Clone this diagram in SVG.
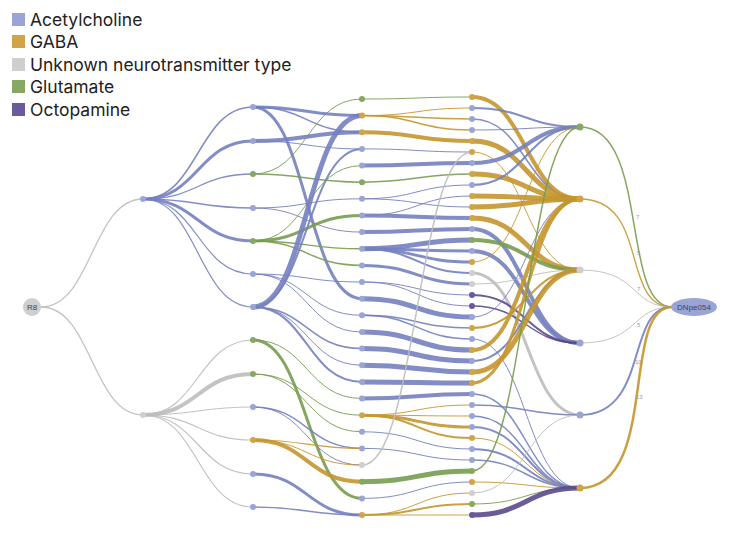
<svg xmlns="http://www.w3.org/2000/svg" width="750" height="540" viewBox="0 0 750 540">
<style>
path{fill:none;stroke-opacity:0.9}
.a{stroke:#7480bf}.g{stroke:#c4962e}.u{stroke:#bdbdbd}.l{stroke:#779c4f}.o{stroke:#594a8c}
circle.a{fill:#9aa5d6;stroke:none}circle.g{fill:#d0a447;stroke:none}circle.u{fill:#cfcfcf;stroke:none}circle.l{fill:#86a862;stroke:none}circle.o{fill:#6a5a9c;stroke:none}
.lg{font-family:Inter,"Liberation Sans",sans-serif;font-size:17.5px;fill:#222}
.nl{font-family:"Liberation Sans",Arial,sans-serif;font-size:8px;fill:#444}
.el{font-family:"Liberation Sans",Arial,sans-serif;font-size:6px;fill:#999}
</style>
<rect width="750" height="540" fill="#fff"/>
<g id="legend">
<rect x="12" y="13" width="13" height="13" fill="#9aa5d6"/><text class="lg" x="30" y="26">Acetylcholine</text>
<rect x="12" y="35" width="13" height="13" fill="#d0a447"/><text class="lg" x="30" y="48">GABA</text>
<rect x="12" y="58" width="13" height="13" fill="#cfcfcf"/><text class="lg" x="30" y="71">Unknown neurotransmitter type</text>
<rect x="12" y="80" width="13" height="13" fill="#86a862"/><text class="lg" x="30" y="93">Glutamate</text>
<rect x="12" y="103" width="13" height="13" fill="#6a5a9c"/><text class="lg" x="30" y="116">Octopamine</text>
</g>
<g id="connectors">
<path class="u" stroke-width="1.3" d="M41 307C92 307 92 199 143 199"/>
<path class="u" stroke-width="1.3" d="M41 307C92 307 92 415 143 415"/>
<path class="a" stroke-width="1.5" d="M143 199C198 199 198 107 253 107"/>
<path class="a" stroke-width="3" d="M143 199C198 199 198 141 253 141"/>
<path class="a" stroke-width="1.3" d="M143 199C198 199 198 174 253 174"/>
<path class="a" stroke-width="1.3" d="M143 199C198 199 198 208 253 208"/>
<path class="a" stroke-width="3" d="M143 199C198 199 198 241 253 241"/>
<path class="a" stroke-width="1.2" d="M143 199C198 199 198 274 253 274"/>
<path class="a" stroke-width="1.2" d="M143 199C198 199 198 307 253 307"/>
<path class="u" stroke-width="1.2" d="M143 415C198 415 198 340 253 340"/>
<path class="u" stroke-width="4" d="M143 415C198 415 198 374 253 374"/>
<path class="u" stroke-width="1.2" d="M143 415C198 415 198 407 253 407"/>
<path class="u" stroke-width="1.2" d="M143 415C198 415 198 440 253 440"/>
<path class="u" stroke-width="1.2" d="M143 415C198 415 198 474 253 474"/>
<path class="u" stroke-width="1.2" d="M143 415C198 415 198 507 253 507"/>
<path class="a" stroke-width="3" d="M253 107C307 107 307 115.6 362 115.6"/>
<path class="a" stroke-width="1.5" d="M253 107C307 107 307 132.3 362 132.3"/>
<path class="a" stroke-width="3" d="M253 107C307 107 307 298.7 362 298.7"/>
<path class="a" stroke-width="4" d="M253 141C307 141 307 132.3 362 132.3"/>
<path class="a" stroke-width="1" d="M253 141C307 141 307 148.9 362 148.9"/>
<path class="l" stroke-width="1" d="M253 174C307 174 307 99 362 99"/>
<path class="l" stroke-width="1.5" d="M253 174C307 174 307 182.2 362 182.2"/>
<path class="a" stroke-width="1" d="M253 208C307 208 307 198.8 362 198.8"/>
<path class="a" stroke-width="1" d="M253 208C307 208 307 232.1 362 232.1"/>
<path class="l" stroke-width="3" d="M253 241C307 241 307 215.5 362 215.5"/>
<path class="l" stroke-width="1.5" d="M253 241C307 241 307 248.8 362 248.8"/>
<path class="l" stroke-width="1.5" d="M253 241C307 241 307 265.4 362 265.4"/>
<path class="l" stroke-width="1" d="M253 241C307 241 307 165.6 362 165.6"/>
<path class="a" stroke-width="1" d="M253 274C307 274 307 282 362 282"/>
<path class="a" stroke-width="1" d="M253 274C307 274 307 315.3 362 315.3"/>
<path class="a" stroke-width="1" d="M253 274C307 274 307 332 362 332"/>
<path class="a" stroke-width="5" d="M253 307C307 307 307 115.6 362 115.6"/>
<path class="a" stroke-width="2" d="M253 307C307 307 307 148.9 362 148.9"/>
<path class="a" stroke-width="1.5" d="M253 307C307 307 307 348.6 362 348.6"/>
<path class="a" stroke-width="1" d="M253 307C307 307 307 365.2 362 365.2"/>
<path class="a" stroke-width="2" d="M253 307C307 307 307 381.9 362 381.9"/>
<path class="l" stroke-width="3" d="M253 340C307 340 307 498.4 362 498.4"/>
<path class="l" stroke-width="1" d="M253 340C307 340 307 398.5 362 398.5"/>
<path class="l" stroke-width="1" d="M253 374C307 374 307 431.8 362 431.8"/>
<path class="l" stroke-width="1" d="M253 374C307 374 307 415.2 362 415.2"/>
<path class="a" stroke-width="1.5" d="M253 407C307 407 307 448.4 362 448.4"/>
<path class="a" stroke-width="1" d="M253 407C307 407 307 465.1 362 465.1"/>
<path class="g" stroke-width="1.2" d="M253 440C307 440 307 448.4 362 448.4"/>
<path class="g" stroke-width="4" d="M253 440C307 440 307 481.7 362 481.7"/>
<path class="g" stroke-width="1" d="M253 440C307 440 307 465.1 362 465.1"/>
<path class="a" stroke-width="3" d="M253 474C307 474 307 515 362 515"/>
<path class="a" stroke-width="1.5" d="M253 507C307 507 307 515 362 515"/>
<path class="l" stroke-width="1" d="M362 99C417 99 417 97 472 97"/>
<path class="g" stroke-width="1" d="M362 115.6C417 115.6 417 108 472 108"/>
<path class="g" stroke-width="1.5" d="M362 115.6C417 115.6 417 119 472 119"/>
<path class="g" stroke-width="1.5" d="M362 115.6C417 115.6 417 130 472 130"/>
<path class="g" stroke-width="4" d="M362 132.3C417 132.3 417 141 472 141"/>
<path class="a" stroke-width="1" d="M362 148.9C417 148.9 417 152 472 152"/>
<path class="a" stroke-width="4" d="M362 165.6C417 165.6 417 163 472 163"/>
<path class="l" stroke-width="1.5" d="M362 182.2C417 182.2 417 174 472 174"/>
<path class="a" stroke-width="1" d="M362 198.8C417 198.8 417 185 472 185"/>
<path class="a" stroke-width="1" d="M362 198.8C417 198.8 417 207 472 207"/>
<path class="a" stroke-width="1" d="M362 215.5C417 215.5 417 196 472 196"/>
<path class="a" stroke-width="4" d="M362 215.5C417 215.5 417 218 472 218"/>
<path class="a" stroke-width="4" d="M362 232.1C417 232.1 417 229 472 229"/>
<path class="a" stroke-width="5" d="M362 248.8C417 248.8 417 240 472 240"/>
<path class="a" stroke-width="3" d="M362 248.8C417 248.8 417 251 472 251"/>
<path class="a" stroke-width="3" d="M362 248.8C417 248.8 417 262 472 262"/>
<path class="a" stroke-width="2" d="M362 248.8C417 248.8 417 273 472 273"/>
<path class="a" stroke-width="3" d="M362 265.4C417 265.4 417 284 472 284"/>
<path class="a" stroke-width="1" d="M362 282C417 282 417 295 472 295"/>
<path class="a" stroke-width="1" d="M362 282C417 282 417 306 472 306"/>
<path class="a" stroke-width="5" d="M362 298.7C417 298.7 417 317 472 317"/>
<path class="a" stroke-width="1.5" d="M362 315.3C417 315.3 417 328 472 328"/>
<path class="a" stroke-width="1.5" d="M362 315.3C417 315.3 417 339 472 339"/>
<path class="a" stroke-width="5" d="M362 332C417 332 417 350 472 350"/>
<path class="a" stroke-width="5" d="M362 348.6C417 348.6 417 361 472 361"/>
<path class="a" stroke-width="5" d="M362 365.2C417 365.2 417 372 472 372"/>
<path class="a" stroke-width="5" d="M362 381.9C417 381.9 417 383 472 383"/>
<path class="a" stroke-width="4" d="M362 398.5C417 398.5 417 394 472 394"/>
<path class="g" stroke-width="1" d="M362 415.2C417 415.2 417 405 472 405"/>
<path class="g" stroke-width="1" d="M362 415.2C417 415.2 417 416 472 416"/>
<path class="g" stroke-width="3" d="M362 415.2C417 415.2 417 427 472 427"/>
<path class="g" stroke-width="2" d="M362 415.2C417 415.2 417 438 472 438"/>
<path class="a" stroke-width="1" d="M362 431.8C417 431.8 417 449 472 449"/>
<path class="a" stroke-width="1" d="M362 448.4C417 448.4 417 460 472 460"/>
<path class="u" stroke-width="1.5" d="M362 465.1C417 465.1 417 152 472 152"/>
<path class="l" stroke-width="5" d="M362 481.7C417 481.7 417 471 472 471"/>
<path class="a" stroke-width="1" d="M362 498.4C417 498.4 417 482 472 482"/>
<path class="g" stroke-width="1" d="M362 515C417 515 417 493 472 493"/>
<path class="g" stroke-width="2" d="M362 515C417 515 417 504 472 504"/>
<path class="g" stroke-width="1" d="M362 515C417 515 417 515 472 515"/>
<path class="g" stroke-width="4" d="M472 97C526 97 526 199 580 199"/>
<path class="a" stroke-width="2" d="M472 108C526 108 526 127 580 127"/>
<path class="a" stroke-width="1.5" d="M472 119C526 119 526 199 580 199"/>
<path class="a" stroke-width="1" d="M472 130C526 130 526 127 580 127"/>
<path class="g" stroke-width="5" d="M472 141C526 141 526 199 580 199"/>
<path class="g" stroke-width="1" d="M472 152C526 152 526 270 580 270"/>
<path class="a" stroke-width="4" d="M472 163C526 163 526 127 580 127"/>
<path class="g" stroke-width="5" d="M472 174C526 174 526 199 580 199"/>
<path class="a" stroke-width="2" d="M472 185C526 185 526 127 580 127"/>
<path class="g" stroke-width="5" d="M472 196C526 196 526 199 580 199"/>
<path class="g" stroke-width="5" d="M472 207C526 207 526 199 580 199"/>
<path class="g" stroke-width="5" d="M472 218C526 218 526 270 580 270"/>
<path class="a" stroke-width="4" d="M472 229C526 229 526 343 580 343"/>
<path class="l" stroke-width="4" d="M472 240C526 240 526 270 580 270"/>
<path class="a" stroke-width="4" d="M472 251C526 251 526 343 580 343"/>
<path class="g" stroke-width="1" d="M472 262C526 262 526 127 580 127"/>
<path class="u" stroke-width="3" d="M472 273C526 273 526 415 580 415"/>
<path class="u" stroke-width="1" d="M472 284C526 284 526 270 580 270"/>
<path class="o" stroke-width="2" d="M472 295C526 295 526 343 580 343"/>
<path class="o" stroke-width="1.5" d="M472 306C526 306 526 343 580 343"/>
<path class="a" stroke-width="1" d="M472 317C526 317 526 199 580 199"/>
<path class="g" stroke-width="2" d="M472 328C526 328 526 270 580 270"/>
<path class="a" stroke-width="1" d="M472 339C526 339 526 488 580 488"/>
<path class="g" stroke-width="4" d="M472 350C526 350 526 199 580 199"/>
<path class="a" stroke-width="2" d="M472 361C526 361 526 270 580 270"/>
<path class="g" stroke-width="5" d="M472 372C526 372 526 270 580 270"/>
<path class="g" stroke-width="3" d="M472 383C526 383 526 199 580 199"/>
<path class="a" stroke-width="1.5" d="M472 394C526 394 526 488 580 488"/>
<path class="a" stroke-width="1.5" d="M472 405C526 405 526 415 580 415"/>
<path class="a" stroke-width="1.5" d="M472 416C526 416 526 488 580 488"/>
<path class="a" stroke-width="2" d="M472 427C526 427 526 488 580 488"/>
<path class="g" stroke-width="1" d="M472 438C526 438 526 488 580 488"/>
<path class="a" stroke-width="2" d="M472 449C526 449 526 488 580 488"/>
<path class="a" stroke-width="1.5" d="M472 460C526 460 526 488 580 488"/>
<path class="l" stroke-width="1.5" d="M472 471C526 471 526 127 580 127"/>
<path class="g" stroke-width="1" d="M472 482C526 482 526 488 580 488"/>
<path class="u" stroke-width="1" d="M472 493C526 493 526 415 580 415"/>
<path class="l" stroke-width="1" d="M472 504C526 504 526 488 580 488"/>
<path class="o" stroke-width="5" d="M472 515C526 515 526 488 580 488"/>
<path class="l" stroke-width="1.5" d="M580 127C650 127 620 307 672 307"/>
<path class="g" stroke-width="1.3" d="M580 199C650 199 620 307 672 307"/>
<path class="u" stroke-width="1" d="M580 270C640 270 630 307 672 307"/>
<path class="u" stroke-width="1" d="M580 343C640 343 630 307 672 307"/>
<path class="a" stroke-width="2" d="M580 415C650 415 625 307 672 307"/>
<path class="g" stroke-width="2.5" d="M580 488C660 488 620 307 672 307"/>
</g>
<g id="edge-labels">
<text class="el" x="636" y="219">7</text>
<text class="el" x="637" y="255">5</text>
<text class="el" x="637" y="291">7</text>
<text class="el" x="637" y="327">5</text>
<text class="el" x="635" y="364">10</text>
<text class="el" x="636" y="399">13</text>
</g>
<g id="node-R8"><circle cx="32" cy="307" r="9" fill="#cfcfcf"/><text class="nl" x="32" y="310" text-anchor="middle">R8</text></g>
<g id="node-DNpe054"><ellipse cx="694" cy="307" rx="23" ry="9" fill="#9aa5d6"/><text class="nl" x="694" y="310" text-anchor="middle" fill="#2a2f55">DNpe054</text></g>
<g id="nodes-l1"><circle class="a" cx="143" cy="199" r="3"/><circle class="u" cx="143" cy="415" r="3"/></g>
<g id="nodes-l2">
<circle class="a" cx="253" cy="107" r="3"/><circle class="a" cx="253" cy="141" r="3"/><circle class="l" cx="253" cy="174" r="3"/><circle class="a" cx="253" cy="208" r="3"/><circle class="l" cx="253" cy="241" r="3"/><circle class="a" cx="253" cy="274" r="3"/><circle class="a" cx="253" cy="307" r="3"/>
<circle class="l" cx="253" cy="340" r="3"/><circle class="l" cx="253" cy="374" r="3"/><circle class="a" cx="253" cy="407" r="3"/><circle class="g" cx="253" cy="440" r="3"/><circle class="a" cx="253" cy="474" r="3"/><circle class="a" cx="253" cy="507" r="3"/>
</g>
<g id="nodes-l3">
<circle class="l" cx="362" cy="99" r="3"/><circle class="g" cx="362" cy="115.6" r="3"/><circle class="g" cx="362" cy="132.3" r="3"/><circle class="a" cx="362" cy="148.9" r="3"/><circle class="a" cx="362" cy="165.6" r="3"/><circle class="l" cx="362" cy="182.2" r="3"/><circle class="a" cx="362" cy="198.8" r="3"/><circle class="a" cx="362" cy="215.5" r="3"/><circle class="a" cx="362" cy="232.1" r="3"/><circle class="a" cx="362" cy="248.8" r="3"/><circle class="a" cx="362" cy="265.4" r="3"/><circle class="a" cx="362" cy="282" r="3"/><circle class="a" cx="362" cy="298.7" r="3"/>
<circle class="a" cx="362" cy="315.3" r="3"/><circle class="a" cx="362" cy="332" r="3"/><circle class="a" cx="362" cy="348.6" r="3"/><circle class="a" cx="362" cy="365.2" r="3"/><circle class="a" cx="362" cy="381.9" r="3"/><circle class="a" cx="362" cy="398.5" r="3"/><circle class="g" cx="362" cy="415.2" r="3"/><circle class="a" cx="362" cy="431.8" r="3"/><circle class="a" cx="362" cy="448.4" r="3"/><circle class="u" cx="362" cy="465.1" r="3"/><circle class="l" cx="362" cy="481.7" r="3"/><circle class="a" cx="362" cy="498.4" r="3"/><circle class="g" cx="362" cy="515" r="3"/>
</g>
<g id="nodes-l4">
<circle class="g" cx="472" cy="97" r="3"/><circle class="a" cx="472" cy="108" r="3"/><circle class="a" cx="472" cy="119" r="3"/><circle class="a" cx="472" cy="130" r="3"/><circle class="g" cx="472" cy="141" r="3"/><circle class="g" cx="472" cy="152" r="3"/><circle class="a" cx="472" cy="163" r="3"/><circle class="g" cx="472" cy="174" r="3"/><circle class="a" cx="472" cy="185" r="3"/><circle class="g" cx="472" cy="196" r="3"/><circle class="g" cx="472" cy="207" r="3"/><circle class="g" cx="472" cy="218" r="3"/><circle class="a" cx="472" cy="229" r="3"/><circle class="l" cx="472" cy="240" r="3"/><circle class="a" cx="472" cy="251" r="3"/><circle class="g" cx="472" cy="262" r="3"/><circle class="u" cx="472" cy="273" r="3"/><circle class="u" cx="472" cy="284" r="3"/><circle class="o" cx="472" cy="295" r="3"/><circle class="o" cx="472" cy="306" r="3"/>
<circle class="a" cx="472" cy="317" r="3"/><circle class="g" cx="472" cy="328" r="3"/><circle class="a" cx="472" cy="339" r="3"/><circle class="g" cx="472" cy="350" r="3"/><circle class="a" cx="472" cy="361" r="3"/><circle class="g" cx="472" cy="372" r="3"/><circle class="g" cx="472" cy="383" r="3"/><circle class="a" cx="472" cy="394" r="3"/><circle class="a" cx="472" cy="405" r="3"/><circle class="a" cx="472" cy="416" r="3"/><circle class="a" cx="472" cy="427" r="3"/><circle class="g" cx="472" cy="438" r="3"/><circle class="a" cx="472" cy="449" r="3"/><circle class="a" cx="472" cy="460" r="3"/><circle class="l" cx="472" cy="471" r="3"/><circle class="g" cx="472" cy="482" r="3"/><circle class="u" cx="472" cy="493" r="3"/><circle class="l" cx="472" cy="504" r="3"/><circle class="o" cx="472" cy="515" r="3"/>
</g>
<g id="nodes-l5">
<circle class="l" cx="580" cy="127" r="3.5"/><circle class="g" cx="580" cy="199" r="3.5"/><circle class="u" cx="580" cy="270" r="3.5"/><circle class="a" cx="580" cy="343" r="3.5"/><circle class="a" cx="580" cy="415" r="3.5"/><circle class="g" cx="580" cy="488" r="3.5"/>
</g>
</svg>
